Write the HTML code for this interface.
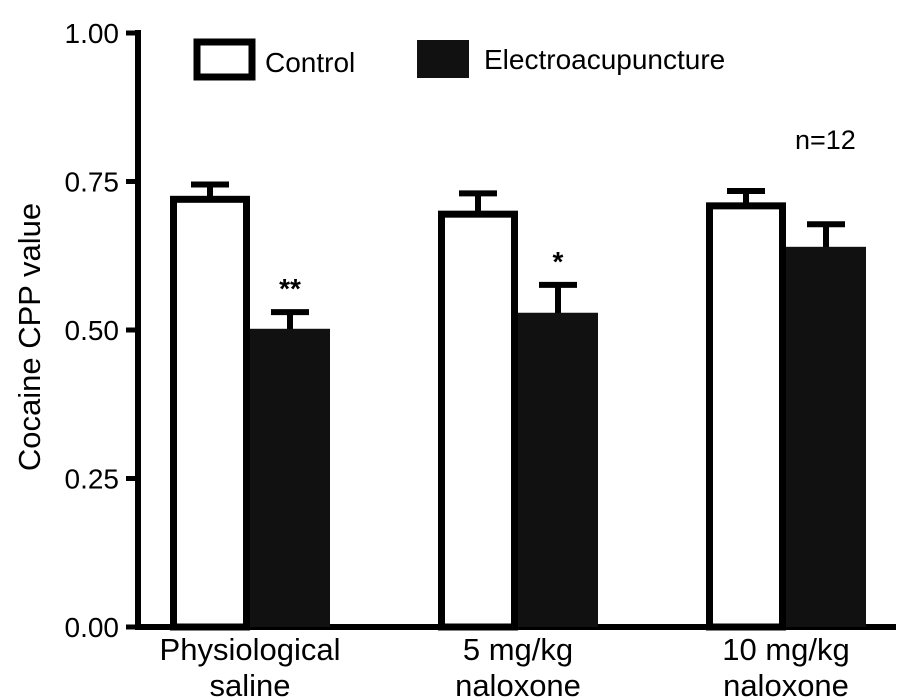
<!DOCTYPE html>
<html><head><meta charset="utf-8"><style>
html,body{margin:0;padding:0;background:#fff;}
svg{display:block;font-family:"Liberation Sans",Arial,sans-serif;}
</style></head><body>
<svg id="chart" width="918" height="700" viewBox="0 0 918 700">
<g id="axes"></g><g id="bars"></g>
<g>
 <rect x="197" y="42" width="55" height="35" fill="#fff" stroke="#000" stroke-width="7"/>
 <text x="265" y="72" font-size="28">Control</text>
 <rect x="417" y="40" width="52" height="38" fill="#111"/>
 <text x="484" y="69" font-size="28">Electroacupuncture</text>
</g>
<text x="795" y="149" font-size="27">n=12</text>
<text transform="translate(40,337) rotate(-90)" text-anchor="middle" font-size="31">Cocaine CPP value</text>
</svg>
<script>
const categories = [["Physiological","saline"],["5 mg/kg","naloxone"],["10 mg/kg","naloxone"]];
const controlValues = [0.72, 0.695, 0.709];
const controlErrors = [0.025, 0.035, 0.025];
const eaValues = [0.497, 0.524, 0.635];
const eaErrors = [0.033, 0.052, 0.043];
const significance = ["**","*",""];
const yTicks = [0, 0.25, 0.5, 0.75, 1.0];
const yTickLabels = ["0.00","0.25","0.50","0.75","1.00"];

const NS="http://www.w3.org/2000/svg";
const y = v => 627 - v*594;
const xc = i => 250 + i*268;
const barW = 80;
function mk(tag, attrs, parent){const e=document.createElementNS(NS,tag);for(const k in attrs)e.setAttribute(k,attrs[k]);parent.appendChild(e);return e;}
const axes=document.getElementById('axes'), bars=document.getElementById('bars');

let a=mk('line',{x1:138,y1:y(1)-3,x2:138,y2:630,stroke:'#000','stroke-width':6},axes);


let b=mk('line',{x1:135,y1:627,x2:896,y2:627,stroke:'#000','stroke-width':6},axes);


yTicks.forEach((t,i)=>{
  const tk=mk('line',{x1:126,y1:y(t),x2:138,y2:y(t),stroke:'#000','stroke-width':5},axes);
  
  
  const tl=mk('text',{x:119,y:y(t)+10,'text-anchor':'end','font-size':28},axes);
  tl.textContent=yTickLabels[i];
  
  
});
function errBar(cx,v,e){
  const g=mk('g',{},bars);
  
  
  mk('line',{x1:cx,y1:y(v),x2:cx,y2:y(v+e),stroke:'#000','stroke-width':6},g);
  mk('line',{x1:cx-19,y1:y(v+e),x2:cx+19,y2:y(v+e),stroke:'#000','stroke-width':6},g);
}
categories.forEach((c,i)=>{
  const cx=xc(i);
  errBar(cx-barW/2,controlValues[i],controlErrors[i]);
  errBar(cx+barW/2,eaValues[i],eaErrors[i]);
  const r1=mk('rect',{x:cx-barW+3.5,y:y(controlValues[i]),width:barW-7,height:627-y(controlValues[i]),fill:'#fff',stroke:'#000','stroke-width':7},bars);
  
  
  const r2=mk('rect',{x:cx,y:y(eaValues[i])-3,width:barW,height:627-y(eaValues[i])+3,fill:'#111'},bars);
  
  
  if(significance[i]){
    const s=mk('text',{x:cx+barW/2,y:y(eaValues[i]+eaErrors[i])-14,'text-anchor':'middle','font-size':28,'font-weight':'bold'},bars);
    s.textContent=significance[i];
    
    
  }
  c.forEach((line,j)=>{
    const t=mk('text',{x:cx,y:660+j*36,'text-anchor':'middle','font-size':31},axes);
    t.textContent=line;
    
    
  });
});
</script>
</body></html>
